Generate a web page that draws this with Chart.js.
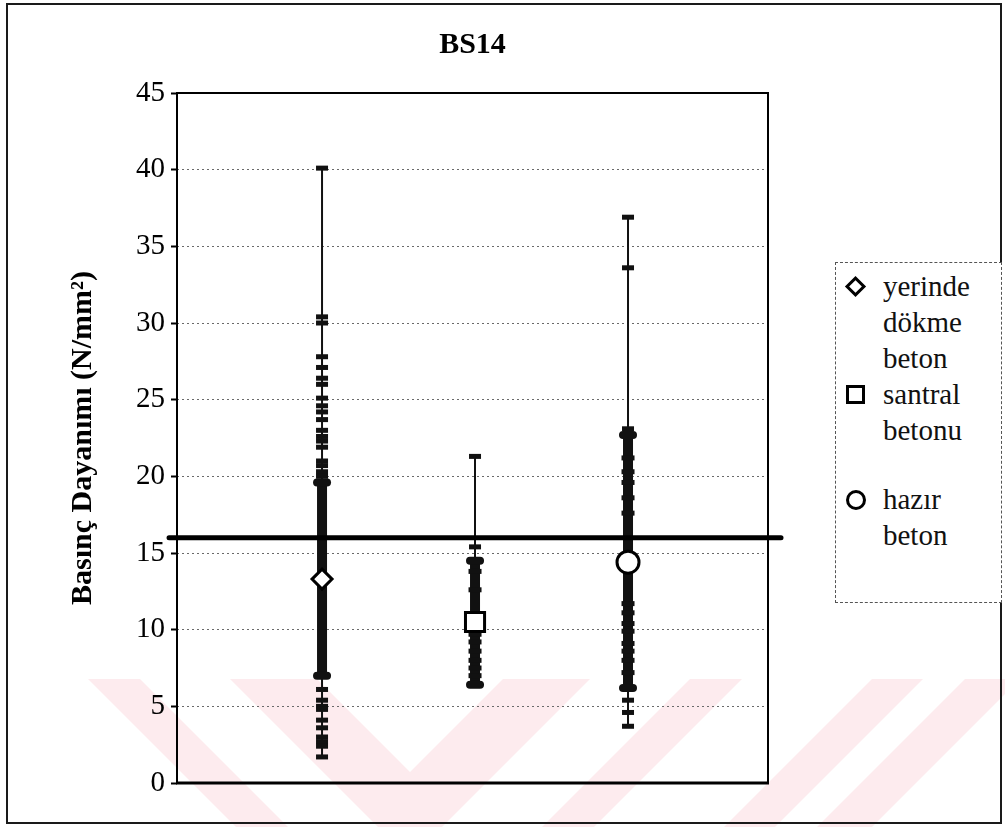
<!DOCTYPE html>
<html lang="tr">
<head>
<meta charset="utf-8">
<title>BS14</title>
<script src="https://cdn.jsdelivr.net/npm/chart.js@4.4.1/dist/chart.umd.min.js"></script>
<style>
html,body{margin:0;padding:0;background:#fff}
#wrap{position:relative;width:1005px;height:827px;overflow:hidden}
#wm,#c{position:absolute;left:0;top:0}
#frame{position:absolute;left:6px;top:3px;width:996px;height:821px;border:2px solid #1a1a1a;box-sizing:border-box;pointer-events:none}
#leg{position:absolute;left:835px;top:262px;width:167px;height:341px;border:1px dashed #555;box-sizing:border-box;
 font:29px 'Liberation Serif','Times New Roman',serif;color:#111;background:#fff}
.it{position:absolute;left:0;width:100%}
.ln{height:36px;line-height:36px;padding-left:47px;white-space:nowrap}
.mk{position:absolute;box-sizing:border-box;border:3px solid #000;background:#fff}
</style>
</head>
<body>
<div id="wrap">
 <svg id="wm" width="1005" height="827">
  <g fill="#fdebee">
   <polygon points="88,679 140,679 288,827 236,827"/>
   <polygon points="230,679 317,679 410,772 503,679 590,679 442,827 378,827"/>
   <polygon points="690,679 742,679 594,827 542,827"/>
   <polygon points="872,679 923,679 775,827 724,827"/>
   <polygon points="965,679 1020,679 872,827 817,827"/>
  </g>
 </svg>
 <canvas id="c" width="1005" height="827"></canvas>
 <div id="frame"></div>
 <div id="leg">
  <div class="it" style="top:5px">
   <span class="mk" style="left:12px;top:11px;width:15px;height:15px;transform:rotate(45deg)"></span>
   <div class="ln">yerinde</div><div class="ln">dökme</div><div class="ln">beton</div>
  </div>
  <div class="it" style="top:113px">
   <span class="mk" style="left:10px;top:9px;width:19px;height:19px"></span>
   <div class="ln">santral</div><div class="ln">betonu</div>
  </div>
  <div class="it" style="top:218px">
   <span class="mk" style="left:10px;top:9px;width:20px;height:20px;border-radius:50%"></span>
   <div class="ln">hazır</div><div class="ln">beton</div>
  </div>
 </div>
</div>
<script>
// BS14 - basınç dayanımı, üç beton türü
const groups=['yerinde dökme beton','santral betonu','hazır beton'];
const xPos=[1,2,3];
const means=[13.3,10.5,14.4];
const lowVals=[1.7,6.4,3.7];
const highVals=[40.1,21.3,36.9];
const bandLo=[7.0,6.4,6.2];
const bandHi=[19.6,14.5,22.7];
// tek tek deney sonuçları (çizgi uçları)
const samples1=[40.1,30.4,30.0,27.8,27.1,26.4,26.0,25.1,24.6,24.2,23.7,23.0,22.6,22.3,21.9,21.0,20.7,20.3,20.0,
 6.1,5.4,5.0,4.8,4.1,3.6,3.0,2.7,2.4,1.7];
const samples2=[21.3,15.4,13.8,12.6,9.7,9.2,8.6,8.0,7.5,7.0];
const samples3=[36.9,33.6,23.1,21.2,20.3,19.6,18.6,17.6,11.7,11.1,10.4,9.9,9.1,8.6,8.0,7.2,5.4,4.6,3.7];
const limitVal=16;
const limitX=[0,4];
const yMin=0,yMax=45,yStep=5;
const samples=[samples1,samples2,samples3];

const SERIF="'Liberation Serif','Times New Roman',serif";

const frame={id:'frame',beforeDatasetsDraw(ch){
 var c=ch.ctx,a=ch.chartArea;
 c.save();c.strokeStyle='#000';c.setLineDash([]);
 c.lineWidth=2;c.strokeRect(a.left,a.top,a.right-a.left,a.bottom-a.top);
 c.lineWidth=3;c.beginPath();c.moveTo(a.left-1,a.bottom);c.lineTo(a.right+1,a.bottom);c.stroke();
 c.restore();
}};

const bars={id:'bars',beforeDatasetsDraw(ch){
 var c=ch.ctx,xs=ch.scales.x,ys=ch.scales.y;
 c.save();c.fillStyle='#111';c.strokeStyle='#111';
 samples.forEach(function(sm,i){
  var px=xs.getPixelForValue(xPos[i]);
  c.lineWidth=2;c.beginPath();
  c.moveTo(px,ys.getPixelForValue(lowVals[i]));c.lineTo(px,ys.getPixelForValue(highVals[i]));c.stroke();
  var t=ys.getPixelForValue(bandHi[i]),b=ys.getPixelForValue(bandLo[i]);
  c.fillRect(px-5,t,10,b-t);
  sm.forEach(function(v){
   var py=ys.getPixelForValue(v),inB=v>bandLo[i]&&v<bandHi[i];
   c.fillRect(px-(inB?6.5:6),py-2.5,inB?13:12,5);
  });
  [bandLo[i],bandHi[i]].forEach(function(v){
   var py=ys.getPixelForValue(v);c.beginPath();c.roundRect(px-9,py-4,18,8,4);c.fill();
  });
 });
 c.restore();
}};

const title={id:'ttl',afterDraw(ch){
 var c=ch.ctx,a=ch.chartArea;
 c.save();c.fillStyle='#000';c.font='bold 30px '+SERIF;c.textAlign='center';c.textBaseline='middle';
 c.fillText('BS14',(a.left+a.right)/2,45);c.restore();
}};

new Chart(document.getElementById('c'),{
 type:'scatter',
 data:{datasets:[
  {label:'ortalama',data:xPos.map(function(x,i){return{x:x,y:means[i]}}),
   pointStyle:['rectRot','rect','circle'],pointRadius:[10,13.5,11],
   backgroundColor:'#fff',borderColor:'#000',borderWidth:3,showLine:false},
  {label:'sınır',data:limitX.map(function(x){return{x:x,y:limitVal}}),showLine:true,
   borderColor:'#000',borderWidth:5,borderCapStyle:'round',pointRadius:0,clip:false}
 ]},
 options:{responsive:false,animation:false,
  layout:{padding:{left:61,top:93,right:237,bottom:44}},
  plugins:{legend:{display:false},tooltip:{enabled:false}},
  scales:{
   x:{type:'linear',min:0.052,max:3.915,display:false},
   y:{min:yMin,max:yMax,
    afterFit:function(s){s.width=116},
    ticks:{stepSize:yStep,color:'#000',padding:6,font:{family:SERIF,size:29}},
    grid:{color:function(ctx){var v=ctx.tick&&ctx.tick.value;return(v===yMin||v===yMax)?'rgba(0,0,0,0)':'#6a6a6a'},
     lineWidth:1,tickColor:'#000',tickWidth:2,tickLength:6,tickBorderDash:[]},
    border:{display:false,dash:[2,3]},
    title:{display:true,text:'Basınç Dayanımı (N/mm²)',color:'#000',font:{family:SERIF,size:30,weight:'bold'}}
   }
  }
 },
 plugins:[frame,bars,title]
});
</script>
</body>
</html>
